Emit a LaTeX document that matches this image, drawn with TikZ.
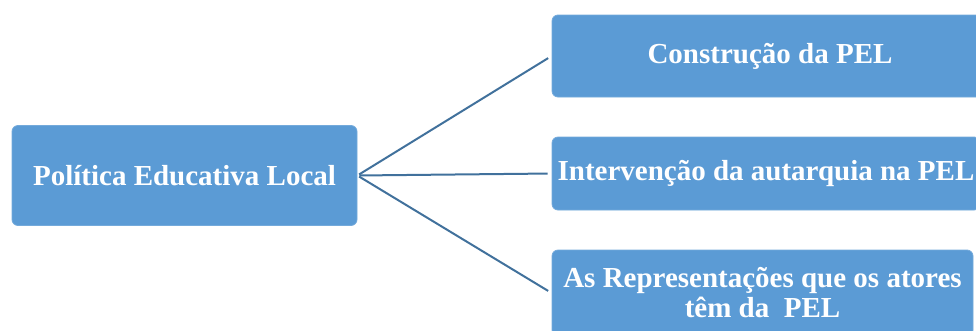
\documentclass[tikz,border=0pt]{standalone}
\usepackage{fontspec}
\setmainfont{Liberation Serif}
\definecolor{caixaazul}{HTML}{5B9BD5}
\definecolor{linhaazul}{HTML}{41719C}

\begin{document}
\begin{tikzpicture}[x=1pt,y=-1pt,
    caixa/.style={fill=caixaazul,draw=caixaazul!85!white,line width=0.8pt,rounded corners=6pt,
      text=white,font=\fontsize{29}{30}\selectfont\bfseries,align=center,inner sep=0pt},
    ligacao/.style={draw=linhaazul,line width=2pt,shorten <=2pt,shorten >=4pt}]

    % page size
    \useasboundingbox (0,0) rectangle (976,330);

    % boxes
    \node[caixa,minimum width=345pt,minimum height=100pt] (pel) at (184.5,175.5) {Política Educativa Local};
    \node[caixa,minimum width=436pt,minimum height=82pt] (construcao) at (770,56) {Construção da PEL};
    \node[caixa,minimum width=428pt,minimum height=73pt] (intervencao) at (766,173.5) {Intervenção da autarquia na PEL};
    \node[caixa,minimum width=421pt,minimum height=86pt] (representacoes) at (762.5,293) {As Representações que os atores\\têm da\ \ PEL};

    % connectors
    \foreach \alvo in {construcao,intervencao,representacoes}
      \draw[ligacao] (pel.east) -- (\alvo.west);

\end{tikzpicture}
\end{document}
